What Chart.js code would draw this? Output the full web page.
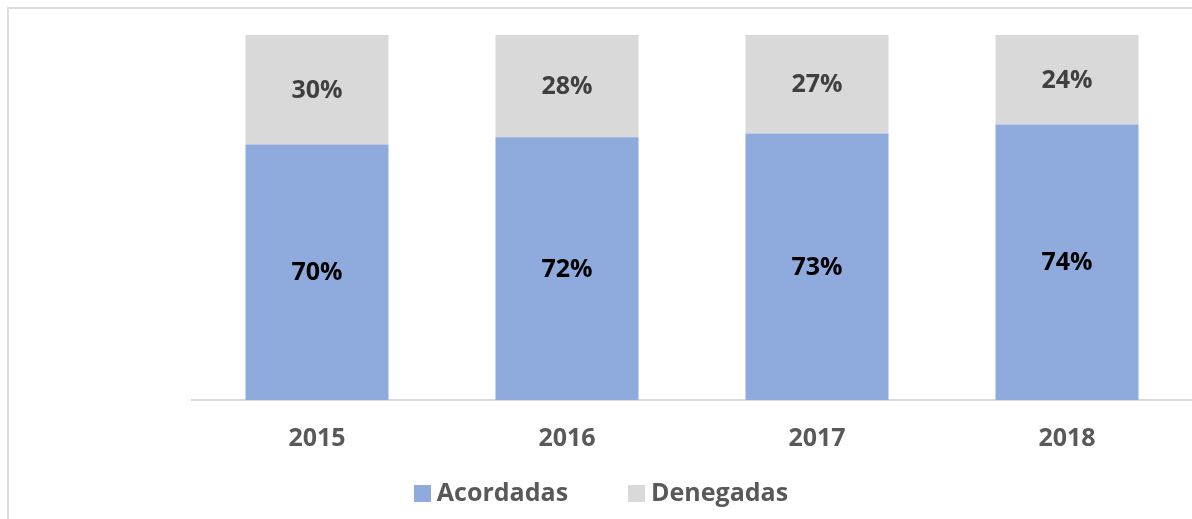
<!DOCTYPE html>
<html>
<head>
<meta charset="utf-8">
<script src="https://cdn.jsdelivr.net/npm/chart.js@4/dist/chart.umd.min.js"></script>
<style>
    html, body { margin: 0; padding: 0; background: #fff; overflow: hidden; }
    #wrap { position: relative; width: 1192px; height: 519px; }
    #frame { position: absolute; left: 7px; top: 7px; width: 1250px; height: 600px; border: 2px solid #dcdcdc; box-sizing: border-box; }
    #myChart { position: absolute; left: 0; top: 0; }
    #legend { position: absolute; left: 0; top: 474px; width: 1202px; text-align: center; font-family: "Open Sans", Lato, sans-serif; font-weight: bold; font-size: 25px; color: #595959; }
    #legend span.item { display: inline-block; margin: 0 30px; }
    #legend span.box { display: inline-block; width: 17px; height: 17px; margin-right: 6px; vertical-align: -1px; }
</style>
</head>
<body>
<div id="wrap">
    <div id="frame"></div>
    <canvas id="myChart" width="1192" height="519"></canvas>
    <div id="legend"></div>
</div>
<script>
var years = ['2015', '2016', '2017', '2018'];
var acordadas = [70, 72, 73, 74];
var denegadas = [30, 28, 27, 24];

var color_acordadas = '#8FAADC';
var color_denegadas = '#D9D9D9';

// 100% stacked: heights are shares of each year's total, labels show the values
function share(values, i) {
    return values[i] / (acordadas[i] + denegadas[i]) * 100;
}
var data_acordadas = years.map(function (e, i) { return share(acordadas, i); });
var data_denegadas = years.map(function (e, i) { return share(denegadas, i); });

var labelPlugin = {
    id: 'barLabels',
    afterDatasetsDraw: function (chart) {
        var ctx = chart.ctx;
        ctx.save();
        ctx.font = 'bold 25px "Open Sans", Lato, sans-serif';
        ctx.textAlign = 'center';
        ctx.textBaseline = 'middle';
        chart.data.datasets.forEach(function (ds, di) {
            var meta = chart.getDatasetMeta(di);
            meta.data.forEach(function (bar, i) {
                ctx.fillStyle = ds.labelColor;
                ctx.fillText(ds.raw[i] + '%', bar.x, (bar.y + bar.base) / 2 + 1);
            });
        });
        ctx.restore();
    }
};

var ctx = document.getElementById('myChart').getContext('2d');
var chart = new Chart(ctx, {
    type: 'bar',
    data: {
        labels: years,
        datasets: [{
            label: 'Acordadas',
            data: data_acordadas,
            raw: acordadas,
            labelColor: '#000000',
            backgroundColor: color_acordadas
        }, {
            label: 'Denegadas',
            data: data_denegadas,
            raw: denegadas,
            labelColor: '#404040',
            backgroundColor: color_denegadas
        }]
    },
    options: {
        responsive: false,
        animation: false,
        events: [],
        layout: { padding: { top: 35, bottom: 49, left: 0, right: 0 } },
        datasets: { bar: { barPercentage: 0.572, categoryPercentage: 1 } },
        plugins: { legend: { display: false }, tooltip: { enabled: false } },
        scales: {
            x: {
                stacked: true,
                grid: { display: false },
                border: { color: '#d9d9d9', width: 2 },
                ticks: {
                    color: '#595959',
                    padding: 16,
                    font: { family: '"Open Sans", Lato, sans-serif', size: 25, weight: 'bold' }
                }
            },
            y: {
                stacked: true,
                min: 0,
                max: 100,
                grid: { display: false },
                border: { display: false },
                ticks: { display: false },
                afterFit: function (scale) { scale.width = 192; }
            }
        }
    },
    plugins: [labelPlugin]
});

var legend = document.getElementById('legend');
chart.data.datasets.forEach(function (ds) {
    var item = document.createElement('span');
    item.className = 'item';
    var box = document.createElement('span');
    box.className = 'box';
    box.style.background = ds.backgroundColor;
    item.appendChild(box);
    item.appendChild(document.createTextNode(ds.label));
    legend.appendChild(item);
});
</script>
</body>
</html>
